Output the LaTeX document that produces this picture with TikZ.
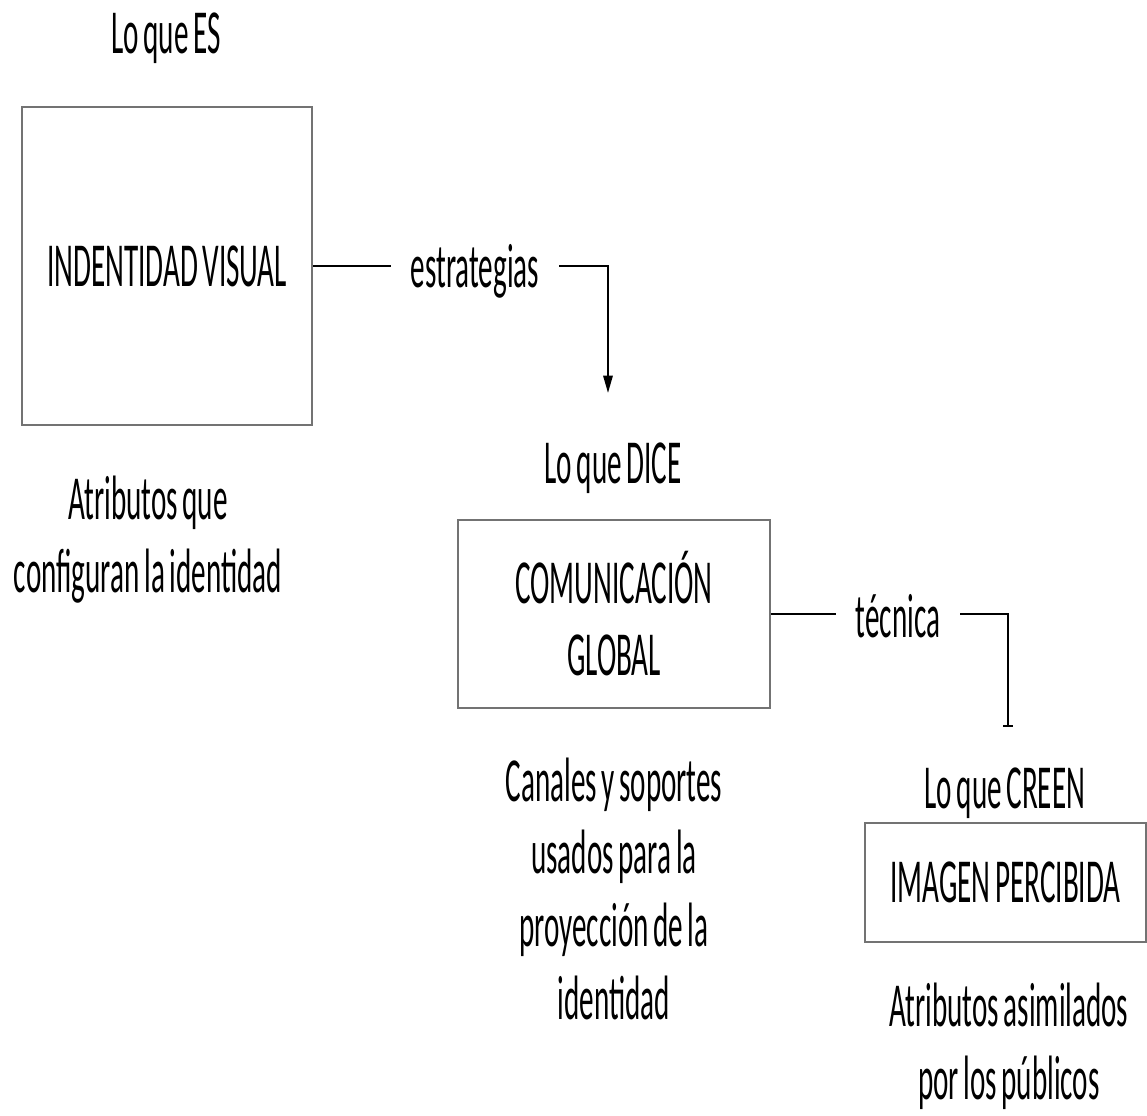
\documentclass[tikz,border=0pt]{standalone}
\usepackage{fontspec}
\newfontfamily\cf[FakeStretch=0.465,WordSpace=0.7]{Carlito}
\usetikzlibrary{arrows.meta}
\begin{document}
\begin{tikzpicture}[x=0.75pt,y=-0.75pt,
  txt/.style={inner sep=0pt, align=center, font=\cf\fontsize{47pt}{54.5pt}\selectfont},
  box/.style={draw=black!55, line width=1.6pt, inner sep=0pt, align=center,
    font=\cf\fontsize{47pt}{54pt}\selectfont},
  conn/.style={line width=1.5pt, black}]
\useasboundingbox (0,0) rectangle (1147,1115);

% boxes
\node[box, minimum width=290*0.75pt, minimum height=318*0.75pt] (b1) at (167,266) {INDENTIDAD VISUAL};
\node[box, minimum width=312*0.75pt, minimum height=188*0.75pt] (b2) at (614,614) {COMUNICACIÓN\\GLOBAL};
\node[box, minimum width=281*0.75pt, minimum height=119*0.75pt] (b3) at (1005.5,882.5) {IMAGEN PERCIBIDA};

% headings
\node[txt, anchor=base] (h1) at (166,53) {Lo que ES};
\node[txt, anchor=base] (h2) at (613,483) {Lo que DICE};
\node[txt, anchor=base] (h3) at (1005,808) {Lo que CREEN};

% captions (base = last line)
\node[txt, anchor=base] (c1) at (148,592) {Atributos que\\configuran la identidad};
\node[txt, anchor=base] (c2) at (614,1019) {Canales y soportes\\usados para la\\proyección de la\\identidad};
\node[txt, anchor=base] (c3) at (1009,1099) {Atributos asimilados\\por los públicos};

% connector labels
\node[txt, anchor=base, inner xsep=15pt] (l1) at (475,287) {estrategias};
\node[txt, anchor=base, inner xsep=15pt] (l2) at (898,637) {técnica};

\coordinate (e1) at (608,393);
\coordinate (e2) at (1008,727);

\draw[conn] (b1.east) -- (b1.east -| l1.west);
\draw[conn, -{Triangle[width=7pt,length=13pt]}] (l1.east |- b1.east) -| (e1);
\draw[conn] (b2.east) -- (b2.east -| l2.west);
\draw[conn, -{Bar[width=7pt]}] (l2.east |- b2.east) -| (e2);
\end{tikzpicture}
\end{document}
